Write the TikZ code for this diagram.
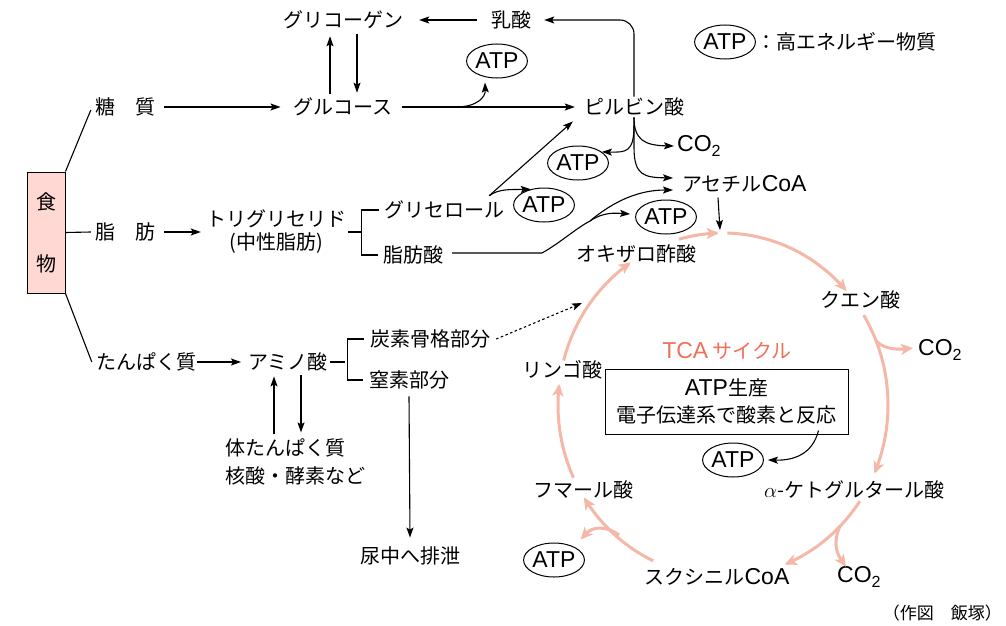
\documentclass[tikz,border=0pt]{standalone}
\usepackage{fontspec}
\setmainfont{Noto Sans CJK JP}
\newfontfamily\lat{Liberation Sans}[Scale=1.15]
\usetikzlibrary{arrows.meta,shapes.geometric,calc}
\definecolor{salmon}{RGB}{245,183,168}
\definecolor{tcared}{RGB}{238,112,88}
\definecolor{foodpink}{RGB}{255,216,211}
\begin{document}
\begin{tikzpicture}[x=1pt,y=-1pt,
 lbl/.style={font=\fontsize{20}{24}\selectfont, inner sep=1pt},
 atp/.style={ellipse, draw, line width=1pt, inner sep=0pt, minimum width=55pt, minimum height=34pt, font=\fontsize{20}{24}\selectfont\lat},
 arr/.style={line width=1.1pt, -{Stealth[length=10pt,width=7pt,inset=2pt]}},
 ln/.style={line width=1.1pt},
 sarr/.style={salmon, line width=3pt, -{Stealth[length=12pt,width=11pt,inset=3pt]}},
 sln/.style={salmon, line width=3pt}]
\useasboundingbox (0,0) rectangle (1006,626);

% ---- nodes ----
\node[lbl] (gly) at (343,20) {グリコーゲン};
\node[lbl] (lac) at (511,20) {乳酸};
\node[atp] (atp1) at (497,61) {ATP};
\node[atp] (atpL) at (725,42) {ATP};
\node[lbl, anchor=west] (leg) at (755,42) {：高エネルギー物質};
\node[lbl] (sugar) at (125,107) {糖　質};
\node[lbl] (glc) at (343,107) {グルコース};
\node[lbl] (pyr) at (634,107) {ピルビン酸};
\node[lbl, anchor=west] (co2a) at (676,146) {{\lat CO\textsubscript{2}}};
\node[atp] (atp2) at (578,163) {ATP};
\node[lbl, anchor=west] (acoa) at (681,184) {アセチル{\lat CoA}};
\node[draw, fill=foodpink, line width=1pt, minimum width=38pt, minimum height=121pt, inner sep=0pt, align=center, font=\fontsize{20}{62}\selectfont] (food) at (46,232.5) {食\\物};
\node[lbl] (fat) at (125,232) {脂　肪};
\node[lbl, align=center, font=\fontsize{20}{23}\selectfont] (tg) at (276,232) {トリグリセリド\\(中性脂肪)};
\node[lbl] (glyc) at (444,210) {グリセロール};
\node[lbl] (fa) at (413,255) {脂肪酸};
\node[atp] (atp3) at (544,205) {ATP};
\node[atp] (atp4) at (666,217) {ATP};
\node[lbl] (oaa) at (636,254) {オキザロ酢酸};
\node[lbl] (prot) at (146,362) {たんぱく質};
\node[lbl] (amino) at (288,362) {アミノ酸};
\node[lbl] (carbon) at (430,339) {炭素骨格部分};
\node[lbl] (nitro) at (409,380) {窒素部分};
\node[lbl, anchor=west, align=left, font=\fontsize{20}{28}\selectfont] (body) at (224,462) {体たんぱく質\\核酸・酵素など};
\node[lbl] (urine) at (410,556) {尿中へ排泄};
\node[lbl, text=tcared] (tca) at (727,351) {{\lat TCA} サイクル};
\node[draw, line width=1pt, minimum width=243pt, minimum height=65pt, align=center, font=\fontsize{20}{27}\selectfont, inner sep=0pt] (box) at (726.5,401.5) {{\lat ATP}生産\\電子伝達系で酸素と反応};
\node[atp] (atp6) at (733,460) {ATP};
\node[lbl] (cit) at (860,300) {クエン酸};
\node[lbl, anchor=west] (co2b) at (917,350) {{\lat CO\textsubscript{2}}};
\node[lbl] (akg) at (854,490) {$\alpha$-ケトグルタール酸};
\node[lbl, anchor=west] (co2c) at (836,577) {{\lat CO\textsubscript{2}}};
\node[lbl] (suc) at (717,577) {スクシニル{\lat CoA}};
\node[atp] (atp5) at (554,560) {ATP};
\node[lbl] (fum) at (583,490) {フマール酸};
\node[lbl] (mal) at (562,370) {リンゴ酸};
\node[lbl, anchor=east, font=\fontsize{17}{20}\selectfont] (credit) at (1003,613) {（作図　飯塚）};

\coordinate (ctop) at (720,230);
\coordinate (cin) at (582,303);

% ---- food lines ----
\draw[ln] (food.north east) -- ($(sugar.west)+(-3,3)$);
\draw[ln] (food.east) -- ($(fat.west)+(-3,0)$);
\draw[ln] (food.south east) -- ($(prot.west)+(-3,0)$);

% ---- sugar ----
\draw[arr] ($(sugar.east)+(8,0)$) -- ($(glc.west)+(-12,0)$);
\draw[arr] ($(glc.north)+(-13,-3)$) -- ($(gly.south)+(-13,6)$);
\draw[arr] ($(gly.south)+(14,4)$) -- ($(glc.north)+(14,-4)$);
\draw[arr] ($(lac.west)+(-13,0)$) -- ($(gly.east)+(15,0)$);
\draw[arr] ($(glc.east)+(8,0)$) -- ($(pyr.west)+(-8,0)$);
\coordinate (gbr) at ($(glc.east)+(62,0)$);
\draw[arr] (gbr) .. controls ($(gbr)+(22,0)$) and ($(gbr)+(30,-10)$) .. ($(atp1.south)+(-12,4)$);
\draw[arr, rounded corners=14pt] (pyr.north) |- ($(lac.east)+(12,0)$);
\draw[arr] (pyr.south) .. controls ($(pyr.south)+(0,22)$) and ($(pyr.south)+(10,28)$) .. ($(co2a.west)+(-2,0)$);
\draw[arr] ($(pyr.south)+(0,8)$) .. controls ($(pyr.south)+(0,35)$) and ($(pyr.south)+(-8,35)$) .. (atp2.25);
\draw[arr] (pyr.south) -- ($(pyr.south)+(0,30)$) .. controls ($(pyr.south)+(0,58)$) and ($(pyr.south)+(10,60)$) .. ($(acoa.west)+(-8,-6)$);

% ---- fat ----
\draw[arr] ($(fat.east)+(8,0)$) -- ($(tg.west)+(-4,0)$);
\draw[ln] ([xshift=1pt]tg.east) -- ++(14,0);
\draw[ln] ([xshift=-4pt]glyc.west) -| ([xshift=-20pt]fa.west) -- ([xshift=-4pt]fa.west);
\coordinate (gb) at ($(glyc.north east)+(-16,-4)$);
\draw[arr] (gb) -- ($(pyr.south west)+(-10,4)$);
\draw[arr] (gb) .. controls ($(gb)+(10,-7)$) and ($(gb)+(20,-6)$) .. (atp3.130);
\coordinate (fb) at (590,221);
\draw[arr] ($(fa.east)+(8,-2)$) -- (542,253) .. controls (560,243) and (575,229) .. (fb) .. controls (615,200) and (640,190) .. ($(acoa.west)+(-8,6)$);
\draw[arr] (fb) .. controls (603,212) and (615,213) .. ($(atp4.west)+(-5,-3)$);
\draw[arr] ($(acoa.south west)+(37,4)$) -- (ctop);

% ---- protein ----
\draw[arr] (prot.east) -- ($(amino.west)+(-6,0)$);
\draw[ln] ([xshift=1pt]amino.east) -- ++(15,0);
\draw[ln] ([xshift=-5pt]carbon.west) -| ([xshift=-20pt]nitro.west) -- ([xshift=-5pt]nitro.west);
\draw[arr] ($(amino.south)+(-14,62)$) -- ($(amino.south)+(-14,4)$);
\draw[arr] ($(amino.south)+(13,3)$) -- ($(amino.south)+(13,60)$);
\draw[arr] ($(nitro.south)+(0,6)$) -- ($(urine.north)+(0,-8)$);
\draw[line width=1.1pt, dash pattern=on 2.5pt off 2.5pt, -{Stealth[length=10pt,width=7pt,inset=2pt]}] ($(carbon.east)+(5,0)$) -- (cin);

% ---- TCA cycle ----
\draw[sarr] plot[domain=105.5:91.5, samples=20, smooth, variable=\t] ({723+165*cos(\t)}, {405-172*sin(\t)});
\draw[sarr] plot[domain=88.5:41.5, samples=40, smooth, variable=\t] ({723+165*cos(\t)}, {405-172*sin(\t)});
\draw[sarr] plot[domain=31.5:-23.5, samples=40, smooth, variable=\t] ({723+165*cos(\t)}, {405-172*sin(\t)});
\draw[sarr] plot[domain=-34:-68, samples=30, smooth, variable=\t] ({723+165*cos(\t)}, {405-172*sin(\t)});
\draw[sarr] plot[domain=-115:-147.5, samples=30, smooth, variable=\t] ({723+165*cos(\t)}, {405-172*sin(\t)});
\draw[sarr] plot[domain=-155:-187, samples=30, smooth, variable=\t] ({723+165*cos(\t)}, {405-172*sin(\t)});
\draw[sarr] plot[domain=165:124, samples=40, smooth, variable=\t] ({723+165*cos(\t)}, {405-172*sin(\t)});
\draw[sarr] (876,340.6) .. controls (882,348) and (895,350) .. ($(co2b.west)+(-4,-2)$);
\draw[sarr] (839.7,526.6) .. controls (832,545) and (838,555) .. ($(co2c.north west)+(10,1)$);
\draw[sarr] (619,535) .. controls (605,525) and (592,527) .. ($(atp5.30)+(5,-8)$);

% ---- box -> ATP ----
\draw[arr] ($(box.south east)+(-30,-4)$) .. controls ($(box.south east)+(-36,20)$) and ($(box.south east)+(-55,26)$) .. ($(atp6.east)+(4,0)$);
\end{tikzpicture}
\end{document}
